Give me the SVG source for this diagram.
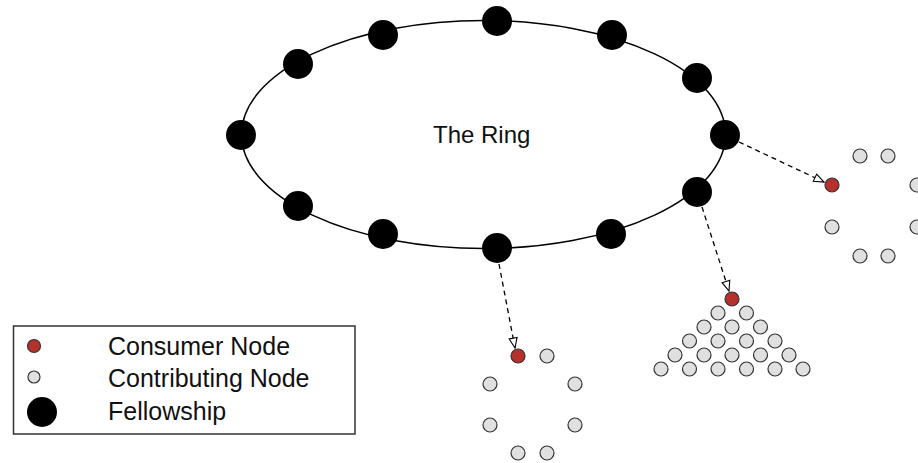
<svg xmlns="http://www.w3.org/2000/svg" width="918" height="463" viewBox="0 0 918 463">
  <defs>
    <style>
      .fellow { fill: #000; }
      .consumer { fill: #b5312c; stroke: #333; stroke-width: 1.2; }
      .contrib { fill: #e0e0e0; stroke: #333; stroke-width: 1.2; }
      .ring { fill: none; stroke: #000; stroke-width: 1.5; }
      .link { fill: none; stroke: #000; stroke-width: 1.3; stroke-dasharray: 5 4; }
      .label { font-family: "Liberation Sans", Arial, sans-serif; fill: #111; }
    </style>
    <marker id="openArrow" markerWidth="12" markerHeight="10" refX="11" refY="5" orient="auto" markerUnits="userSpaceOnUse">
      <path d="M1,1 L11,5 L1,9 Z" fill="#fff" stroke="#000" stroke-width="1.1"/>
    </marker>
  </defs>
  <rect width="918" height="463" fill="#fff"/>

  <g id="ring">
    <ellipse class="ring" cx="483.5" cy="134.5" rx="242" ry="114"/>
    <text class="label" x="433" y="143" font-size="24">The Ring</text>
  </g>

  <g id="fellowship">
    <circle class="fellow" cx="241" cy="135" r="15"/>
    <circle class="fellow" cx="298" cy="64" r="15"/>
    <circle class="fellow" cx="383" cy="35" r="15"/>
    <circle class="fellow" cx="497" cy="21" r="15"/>
    <circle class="fellow" cx="612" cy="35" r="15"/>
    <circle class="fellow" cx="697" cy="78" r="15"/>
    <circle class="fellow" cx="725" cy="135" r="15"/>
    <circle class="fellow" cx="697" cy="192" r="15"/>
    <circle class="fellow" cx="611" cy="234" r="15"/>
    <circle class="fellow" cx="497" cy="248" r="15"/>
    <circle class="fellow" cx="383" cy="234" r="15"/>
    <circle class="fellow" cx="298" cy="206" r="15"/>
  </g>

  <g id="connectors">
    <line class="link" x1="739" y1="142" x2="824" y2="182" marker-end="url(#openArrow)"/>
    <line class="link" x1="702" y1="207" x2="729" y2="291" marker-end="url(#openArrow)"/>
    <line class="link" x1="499" y1="264" x2="515" y2="348" marker-end="url(#openArrow)"/>
  </g>

  <g id="cluster-right">
    <circle class="consumer" cx="832" cy="185" r="7"/>
    <circle class="contrib" cx="860" cy="156" r="7"/>
    <circle class="contrib" cx="888" cy="156" r="7"/>
    <circle class="contrib" cx="917" cy="185" r="7"/>
    <circle class="contrib" cx="832" cy="227" r="7"/>
    <circle class="contrib" cx="917" cy="227" r="7"/>
    <circle class="contrib" cx="860" cy="256" r="7"/>
    <circle class="contrib" cx="888" cy="256" r="7"/>
  </g>

  <g id="cluster-triangle">
    <circle class="consumer" cx="732" cy="299" r="7"/>
    <circle class="contrib" cx="718" cy="313" r="7"/>
    <circle class="contrib" cx="746.5" cy="313" r="7"/>
    <circle class="contrib" cx="704" cy="327" r="7"/>
    <circle class="contrib" cx="732" cy="327" r="7"/>
    <circle class="contrib" cx="760.5" cy="327" r="7"/>
    <circle class="contrib" cx="689.5" cy="341" r="7"/>
    <circle class="contrib" cx="718" cy="341" r="7"/>
    <circle class="contrib" cx="746.5" cy="341" r="7"/>
    <circle class="contrib" cx="775" cy="341" r="7"/>
    <circle class="contrib" cx="675" cy="355" r="7"/>
    <circle class="contrib" cx="704" cy="355" r="7"/>
    <circle class="contrib" cx="732" cy="355" r="7"/>
    <circle class="contrib" cx="760.5" cy="355" r="7"/>
    <circle class="contrib" cx="789" cy="355" r="7"/>
    <circle class="contrib" cx="661" cy="369" r="7"/>
    <circle class="contrib" cx="689.5" cy="369" r="7"/>
    <circle class="contrib" cx="718" cy="369" r="7"/>
    <circle class="contrib" cx="746.5" cy="369" r="7"/>
    <circle class="contrib" cx="775" cy="369" r="7"/>
    <circle class="contrib" cx="803" cy="369" r="7"/>
  </g>

  <g id="cluster-bottom">
    <circle class="consumer" cx="518" cy="356" r="7"/>
    <circle class="contrib" cx="547" cy="356" r="7"/>
    <circle class="contrib" cx="490" cy="384" r="7"/>
    <circle class="contrib" cx="575" cy="384" r="7"/>
    <circle class="contrib" cx="490" cy="425" r="7"/>
    <circle class="contrib" cx="575" cy="425" r="7"/>
    <circle class="contrib" cx="518" cy="453" r="7"/>
    <circle class="contrib" cx="547" cy="453" r="7"/>
  </g>

  <g id="legend">
    <rect x="13.5" y="326" width="341.5" height="108" fill="#fff" stroke="#333" stroke-width="1.5"/>
    <circle class="consumer" cx="34" cy="346" r="6.5"/>
    <circle class="contrib" cx="34" cy="377" r="6"/>
    <circle class="fellow" cx="42" cy="412" r="15"/>
    <text class="label" x="108" y="355" font-size="25">Consumer Node</text>
    <text class="label" x="108" y="387" font-size="25">Contributing Node</text>
    <text class="label" x="108" y="420" font-size="25">Fellowship</text>
  </g>
</svg>
